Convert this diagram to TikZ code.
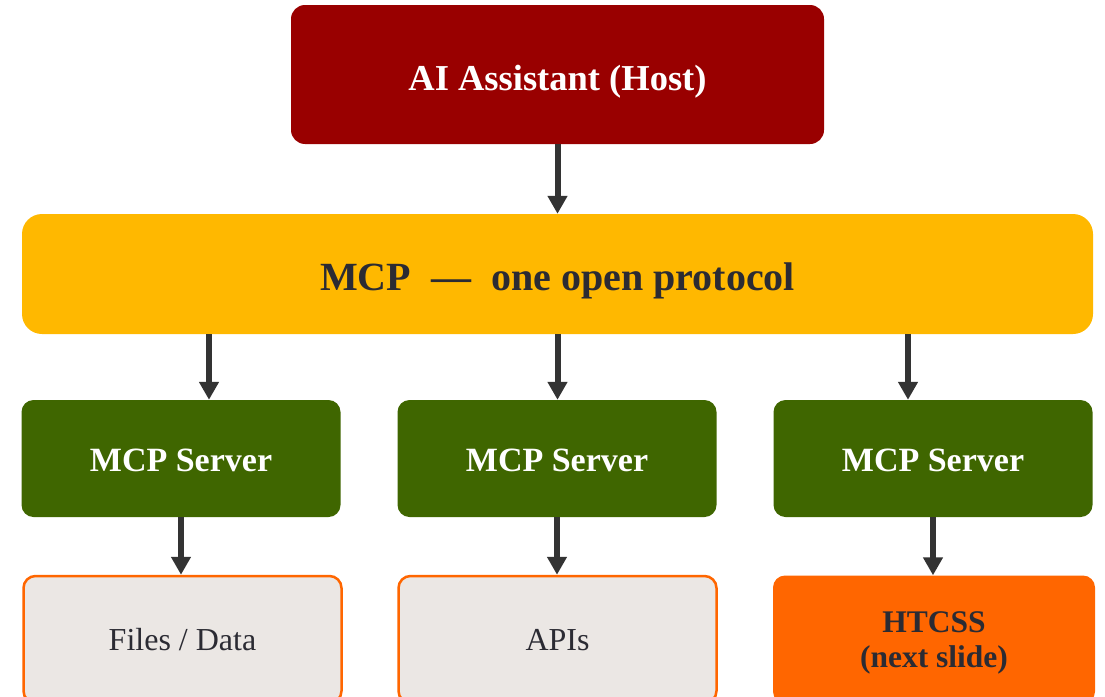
\documentclass[tikz,border=0pt]{standalone}
\usepackage{fontspec}
\setmainfont{Liberation Serif}
\usetikzlibrary{arrows.meta}
\definecolor{hostred}{HTML}{990000}
\definecolor{protoamber}{HTML}{FFB800}
\definecolor{servgreen}{HTML}{3F6600}
\definecolor{srcgrey}{HTML}{EBE7E4}
\definecolor{hotorange}{HTML}{FF6600}
\definecolor{inkdark}{HTML}{2B2B33}
\definecolor{arrowgrey}{HTML}{333333}
\tikzset{
  box/.style={rectangle, inner sep=0pt, align=center, font=\bfseries},
  hostbox/.style={box, fill=hostred, text=white, rounded corners=14pt,
    minimum width=533pt, minimum height=139pt, text height=31pt, text depth=0pt,
    font=\bfseries\fontsize{36.5}{40}\selectfont},
  protobox/.style={box, fill=protoamber, text=inkdark, rounded corners=20pt,
    minimum width=1071pt, minimum height=120pt, text height=32pt, text depth=0pt,
    font=\bfseries\fontsize{40}{44}\selectfont},
  servbox/.style={box, fill=servgreen, text=white, rounded corners=12pt,
    minimum width=319pt, minimum height=117pt, text height=25pt, text depth=0pt,
    font=\bfseries\fontsize{34}{38}\selectfont},
  srcbox/.style={box, fill=srcgrey, draw=hotorange, line width=2.5pt, text=inkdark,
    rounded corners=12pt, minimum width=318pt, minimum height=127pt,
    text height=21pt, text depth=0pt, font=\fontsize{32}{36}\selectfont},
  hotbox/.style={box, fill=hotorange, text=inkdark, rounded corners=12pt,
    minimum width=322pt, minimum height=128pt,
    font=\bfseries\fontsize{31.5}{35}\selectfont},
  arr/.style={draw=arrowgrey, line width=6pt, -{Triangle[length=18pt,width=19pt]}}
}
\begin{document}
\begin{tikzpicture}[x=1pt,y=-1pt]
  \useasboundingbox (0,0) rectangle (1105,696);
  \clip (0,0) rectangle (1105,696);

  % host and protocol layer
  \node[hostbox] (host) at (557.5,74.5) {AI Assistant (Host)};
  \node[protobox] (mcp) at (557.5,274) {MCP\hspace{0.5em}—\hspace{0.5em}one open protocol};

  % servers
  \node[servbox] (srv1) at (181,458.5) {MCP Server};
  \node[servbox] (srv2) at (557,458.5) {MCP Server};
  \node[servbox] (srv3) at (933,458.5) {MCP Server};

  % resources behind the servers
  \node[srcbox] (files) at (182.5,639.5) {Files / Data};
  \node[srcbox] (apis) at (557.5,639.5) {APIs};
  \node[hotbox] (htcss) at (934,639.5) {\rule{0pt}{28pt}HTCSS\\(next slide)};

  % connectors
  \draw[arr] (host.south) -- (host.south |- mcp.north);
  \draw[arr] ([xshift=-348.5pt]mcp.south) -- ([xshift=28pt]srv1.north);
  \draw[arr] (mcp.south) -- (mcp.south |- srv2.north);
  \draw[arr] ([xshift=350.5pt]mcp.south) -- ([xshift=-25pt]srv3.north);
  \draw[arr] (srv1.south) -- (srv1.south |- files.north);
  \draw[arr] (srv2.south) -- (srv2.south |- apis.north);
  \draw[arr] (srv3.south) -- (srv3.south |- htcss.north);
\end{tikzpicture}
\end{document}
